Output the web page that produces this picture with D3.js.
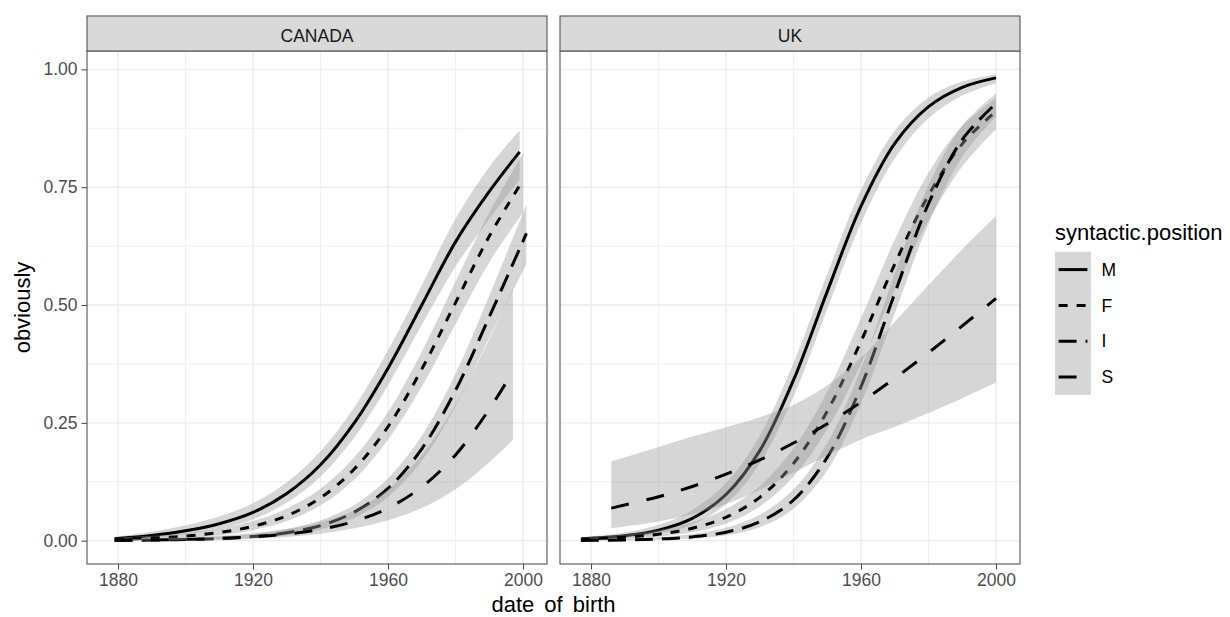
<!DOCTYPE html>
<html>
<head>
<meta charset="utf-8">
<script src="https://cdn.jsdelivr.net/npm/d3@7"></script>
<style>
  body { margin: 0; background: #fff; }
  svg { display: block; font-family: "Liberation Sans", Arial, Helvetica, sans-serif; }
</style>
</head>
<body>
<svg id="chart" width="1230" height="617"></svg>
<script>
/********** data **********/

var panels = ["CANADA", "UK"];
var positions = ["M", "F", "I", "S"];
var xTicks = [1880, 1920, 1960, 2000];
var xMinor = [1900, 1940, 1980];
var yTicks = [0, 0.25, 0.5, 0.75, 1];
var yMinor = [0.125, 0.375, 0.625, 0.875];

// CANADA
var caM_year = [1879, 1890, 1900, 1910, 1920, 1930, 1940, 1950, 1960, 1970, 1980, 1990, 1999];
var caM_fit = [0.004, 0.011, 0.021, 0.036, 0.06, 0.1, 0.161, 0.25, 0.366, 0.5, 0.634, 0.741, 0.825];
var caM_lo = [0.002, 0.0064, 0.0135, 0.0251, 0.0451, 0.0804, 0.136, 0.219, 0.330, 0.458, 0.582, 0.682, 0.767];
var caM_hi = [0.008, 0.0189, 0.0325, 0.0513, 0.0793, 0.1238, 0.19, 0.283, 0.404, 0.542, 0.683, 0.793, 0.871];

var caF_year = [1879, 1890, 1900, 1910, 1920, 1930, 1940, 1950, 1960, 1970, 1980, 1990, 2000];
var caF_fit = [0.0029, 0.0055, 0.0098, 0.0173, 0.0305, 0.053, 0.091, 0.152, 0.242, 0.364, 0.505, 0.646, 0.765];
var caF_lo = [0.0013, 0.003, 0.006, 0.0117, 0.0223, 0.0415, 0.075, 0.130, 0.214, 0.327, 0.460, 0.591, 0.696];
var caF_hi = [0.0064, 0.0102, 0.016, 0.0256, 0.0415, 0.0678, 0.110, 0.177, 0.273, 0.401, 0.550, 0.696, 0.822];

var caI_year = [1879, 1890, 1900, 1910, 1920, 1930, 1940, 1950, 1960, 1970, 1980, 1990, 2001];
var caI_fit = [0.0006, 0.0012, 0.0024, 0.0046, 0.0088, 0.017, 0.032, 0.0607, 0.111, 0.195, 0.319, 0.475, 0.652];
var caI_lo = [0.0002, 0.0005, 0.0012, 0.0026, 0.0055, 0.0117, 0.0241, 0.0483, 0.0928, 0.1694, 0.285, 0.4305, 0.5866];
var caI_hi = [0.0016, 0.0029, 0.0048, 0.0082, 0.014, 0.0246, 0.0431, 0.0759, 0.1324, 0.2227, 0.3543, 0.52, 0.713];

var caS_year = [1879, 1890, 1900, 1910, 1920, 1930, 1940, 1950, 1960, 1970, 1980, 1990, 1997];
var caS_fit = [0.0009, 0.0016, 0.0027, 0.0047, 0.0082, 0.014, 0.024, 0.041, 0.069, 0.114, 0.182, 0.279, 0.359];
var caS_lo = [0.0002, 0.0005, 0.0011, 0.0021, 0.0042, 0.0079, 0.0148, 0.0261, 0.0431, 0.0691, 0.109, 0.1666, 0.214];
var caS_hi = [0.0032, 0.0047, 0.007, 0.0105, 0.016, 0.0248, 0.0392, 0.0642, 0.109, 0.182, 0.289, 0.428, 0.535];

// UK
var ukM_year = [1877, 1890, 1900, 1910, 1920, 1930, 1940, 1950, 1960, 1970, 1980, 1990, 2000];
var ukM_fit = [0.0038, 0.0103, 0.0223, 0.0474, 0.098, 0.191, 0.341, 0.529, 0.710, 0.843, 0.921, 0.962, 0.982];
var ukM_lo = [0.002, 0.0062, 0.0148, 0.0345, 0.078, 0.1638, 0.3058, 0.4918, 0.674, 0.811, 0.8963, 0.9446, 0.9706];
var ukM_hi = [0.0072, 0.0173, 0.0336, 0.0648, 0.1224, 0.2227, 0.3775, 0.5664, 0.744, 0.8696, 0.9403, 0.9743, 0.9894];

var ukF_year = [1877, 1890, 1900, 1910, 1920, 1930, 1940, 1950, 1960, 1970, 1980, 1990, 2000];
var ukF_fit = [0.0031, 0.0072, 0.0138, 0.0263, 0.0497, 0.092, 0.164, 0.275, 0.423, 0.587, 0.733, 0.842, 0.911];
var ukF_lo = [0.0014, 0.004, 0.0084, 0.0178, 0.0366, 0.0724, 0.1359, 0.2368, 0.3752, 0.5325, 0.6792, 0.7941, 0.8732];
var ukF_hi = [0.0064, 0.013, 0.0225, 0.0388, 0.0672, 0.1161, 0.1962, 0.3165, 0.4725, 0.6388, 0.7808, 0.8797, 0.9388];

var ukI_year = [1877, 1890, 1900, 1910, 1920, 1930, 1940, 1950, 1960, 1970, 1980, 1990, 2000];
var ukI_fit = [0.0005, 0.0016, 0.0035, 0.008, 0.018, 0.040, 0.0863, 0.177, 0.327, 0.525, 0.715, 0.851, 0.928];
var ukI_lo = [0.0002, 0.0006, 0.0017, 0.0046, 0.0117, 0.0287, 0.0679, 0.1493, 0.2911, 0.4825, 0.6726, 0.8146, 0.9002];
var ukI_hi = [0.0016, 0.0038, 0.0072, 0.014, 0.0276, 0.0552, 0.1091, 0.2075, 0.3659, 0.5671, 0.754, 0.8808, 0.9488];

var ukS_year = [1886, 1900, 1910, 1920, 1930, 1940, 1950, 1960, 1970, 1980, 1990, 2000];
var ukS_fit = [0.069, 0.0933, 0.115, 0.141, 0.1715, 0.2072, 0.248, 0.294, 0.3446, 0.3989, 0.4559, 0.514];
var ukS_lo = [0.0266, 0.0409, 0.0562, 0.078, 0.1076, 0.1441, 0.1811, 0.2148, 0.2418, 0.2709, 0.3022, 0.3354];
var ukS_hi = [0.168, 0.1988, 0.2208, 0.2409, 0.2621, 0.2886, 0.3298, 0.3879, 0.4643, 0.5424, 0.6184, 0.6891];

/********** build table **********/

function rows(year, fit, lo, hi) {
    return year.map(function (y, i) { return { x: y, y: fit[i], lo: lo[i], hi: hi[i] }; });
}

var series = {
    CANADA: {
        M: rows(caM_year, caM_fit, caM_lo, caM_hi),
        F: rows(caF_year, caF_fit, caF_lo, caF_hi),
        I: rows(caI_year, caI_fit, caI_lo, caI_hi),
        S: rows(caS_year, caS_fit, caS_lo, caS_hi)
    },
    UK: {
        M: rows(ukM_year, ukM_fit, ukM_lo, ukM_hi),
        F: rows(ukF_year, ukF_fit, ukF_lo, ukF_hi),
        I: rows(ukI_year, ukI_fit, ukI_lo, ukI_hi),
        S: rows(ukS_year, ukS_fit, ukS_lo, ukS_hi)
    }
};

// ggplot default linetypes: solid, 22, 42, 44 (scaled by line width)
var dashes = { M: null, F: "9,9", I: "18,9", S: "18,18" };

/********** layout **********/

var svg = d3.select("#chart");
var panelX = [87, 560];
var panelW = 460;
var stripTop = 16, panelTop = 51, panelBottom = 564;
var lineW = 3;
var ribbonFill = "#999999", ribbonAlpha = 0.4;

var y = d3.scaleLinear().domain([-0.0495, 1.039]).range([panelBottom, panelTop]);

panels.forEach(function (name, pi) {
    var x0 = panelX[pi];
    var x = d3.scaleLinear().domain([1870.8, 2007.1]).range([x0, x0 + panelW]);
    var g = svg.append("g");

    // background + grid
    g.append("rect").attr("x", x0).attr("y", panelTop).attr("width", panelW)
        .attr("height", panelBottom - panelTop).attr("fill", "#fff");

    g.selectAll(".ymin").data(yMinor).enter().append("line")
        .attr("x1", x0).attr("x2", x0 + panelW)
        .attr("y1", function (d) { return y(d); }).attr("y2", function (d) { return y(d); })
        .attr("stroke", "#ebebeb").attr("stroke-width", 0.8);
    g.selectAll(".xmin").data(xMinor).enter().append("line")
        .attr("y1", panelTop).attr("y2", panelBottom)
        .attr("x1", function (d) { return x(d); }).attr("x2", function (d) { return x(d); })
        .attr("stroke", "#ebebeb").attr("stroke-width", 0.8);
    g.selectAll(".ymaj").data(yTicks).enter().append("line")
        .attr("x1", x0).attr("x2", x0 + panelW)
        .attr("y1", function (d) { return y(d); }).attr("y2", function (d) { return y(d); })
        .attr("stroke", "#ebebeb").attr("stroke-width", 1.4);
    g.selectAll(".xmaj").data(xTicks).enter().append("line")
        .attr("y1", panelTop).attr("y2", panelBottom)
        .attr("x1", function (d) { return x(d); }).attr("x2", function (d) { return x(d); })
        .attr("stroke", "#ebebeb").attr("stroke-width", 1.4);

    var area = d3.area()
        .x(function (d) { return x(d.x); })
        .y0(function (d) { return y(d.lo); })
        .y1(function (d) { return y(d.hi); })
        .curve(d3.curveCatmullRom);
    var line = d3.line()
        .x(function (d) { return x(d.x); })
        .y(function (d) { return y(d.y); })
        .curve(d3.curveCatmullRom);

    // ribbon then line, group by group (as geom_smooth does)
    positions.forEach(function (p) {
        var data = series[name][p];
        g.append("path").datum(data).attr("d", area)
            .attr("fill", ribbonFill).attr("fill-opacity", ribbonAlpha);
        g.append("path").datum(data).attr("d", line)
            .attr("fill", "none").attr("stroke", "#000").attr("stroke-width", lineW)
            .attr("stroke-dasharray", dashes[p]);
    });

    // border
    g.append("rect").attr("x", x0).attr("y", panelTop).attr("width", panelW)
        .attr("height", panelBottom - panelTop).attr("fill", "none")
        .attr("stroke", "#555").attr("stroke-width", 1.1);

    // strip
    g.append("rect").attr("x", x0).attr("y", stripTop).attr("width", panelW)
        .attr("height", panelTop - stripTop).attr("fill", "#d9d9d9")
        .attr("stroke", "#555").attr("stroke-width", 1.1);
    g.append("text").attr("x", x0 + panelW / 2).attr("y", 41.5)
        .attr("text-anchor", "middle").attr("font-size", 17.5).attr("fill", "#1a1a1a")
        .text(name);

    // x axis
    var xa = g.append("g").attr("transform", "translate(0," + panelBottom + ")")
        .call(d3.axisBottom(x).tickValues(xTicks).tickFormat(d3.format("d")).tickSize(5.5).tickPadding(4));
    xa.select(".domain").remove();
    xa.selectAll("line").attr("stroke", "#444").attr("stroke-width", 1);
    xa.selectAll("text").attr("fill", "#4d4d4d").attr("font-size", 17.5)
        .attr("font-family", "Liberation Sans, Arial, sans-serif");

    // y axis only on first panel
    if (pi === 0) {
        var ya = g.append("g").attr("transform", "translate(" + x0 + ",0)")
            .call(d3.axisLeft(y).tickValues(yTicks).tickFormat(d3.format(".2f")).tickSize(5.5).tickPadding(4));
        ya.select(".domain").remove();
        ya.selectAll("line").attr("stroke", "#444").attr("stroke-width", 1);
        ya.selectAll("text").attr("fill", "#4d4d4d").attr("font-size", 17.5)
            .attr("font-family", "Liberation Sans, Arial, sans-serif");
    }
});

// axis titles
svg.append("text").attr("x", (panelX[0] + panelX[1] + panelW) / 2).attr("y", 612)
    .attr("text-anchor", "middle").attr("font-size", 22).attr("fill", "#000")
    .attr("word-spacing", 4).text("date of birth");
svg.append("text").attr("transform", "translate(30," + ((panelTop + panelBottom) / 2) + ") rotate(-90)")
    .attr("text-anchor", "middle").attr("font-size", 22).attr("fill", "#000")
    .text("obviously");

/********** legend **********/

var lg = svg.append("g").attr("transform", "translate(1055,0)");
var keySize = 35.8, keyTop = 251.7;
lg.append("text").attr("x", 0).attr("y", 240).attr("font-size", 22).attr("fill", "#000")
    .text("syntactic.position");

positions.forEach(function (p, i) {
    var ky = keyTop + i * keySize;
    lg.append("rect").attr("x", 0).attr("y", ky).attr("width", 36).attr("height", keySize)
        .attr("fill", ribbonFill).attr("fill-opacity", ribbonAlpha);
    lg.append("line").attr("x1", 3.6).attr("x2", 32.4)
        .attr("y1", ky + keySize / 2).attr("y2", ky + keySize / 2)
        .attr("stroke", "#000").attr("stroke-width", lineW)
        .attr("stroke-dasharray", dashes[p]);
    lg.append("text").attr("x", 46.5).attr("y", ky + keySize / 2)
        .attr("dy", "0.35em").attr("font-size", 17.5).attr("fill", "#000")
        .text(p);
});
</script>
</body>
</html>
